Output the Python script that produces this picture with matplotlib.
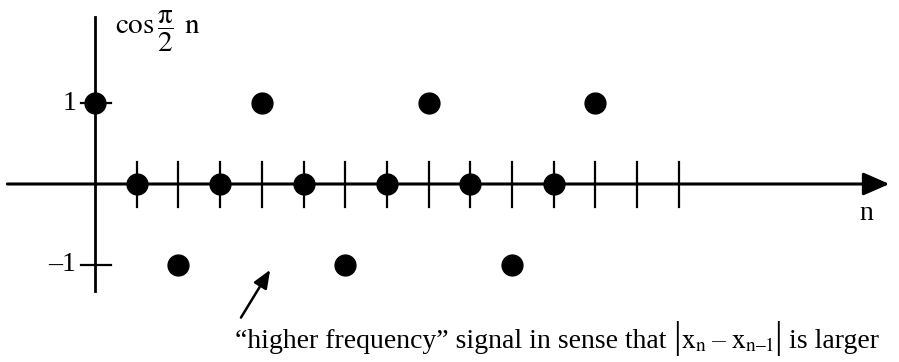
import matplotlib.pyplot as plt

plt.rcParams['font.family'] = ['Liberation Serif', 'DejaVu Serif']
plt.rcParams['mathtext.fontset'] = 'stix'

# samples of cos(pi/2 * n)
n = [0, 1, 2, 3, 4, 5, 6, 7, 8, 9, 10, 11, 12]
x_n = [1, 0, -1, 0, 1, 0, -1, 0, 1, 0, -1, 0, 1]
n_ticks = [1, 2, 3, 4, 5, 6, 7, 8, 9, 10, 11, 12, 13, 14]
y_ticks = [1, -1]
y_labels = ['1', '\u20131']

fig = plt.figure(figsize=(8.99, 3.62), dpi=100)
ax = fig.add_axes([0, 0, 1, 1])
ax.set_xlim(-2.278, 19.28)
ax.set_ylim(-2.198, 2.272)
ax.axis('off')

# axes
ax.annotate('', xy=(19.05, 0), xytext=(-2.1, 0),
            arrowprops=dict(arrowstyle='-|>,head_length=1.6,head_width=0.7',
                            lw=2.2, color='black', shrinkA=0, shrinkB=0))
ax.plot([0, 0], [2.06, -1.32], color='black', lw=2.0)

# tick marks on n axis
for t in n_ticks:
    ax.plot([t, t], [0.27, -0.28], color='black', lw=1.6)
# tick marks on vertical axis
for t, lab in zip(y_ticks, y_labels):
    ax.plot([-0.34, 0.38], [t, t], color='black', lw=1.6)
    ax.text(-0.45, t, lab, fontsize=20, ha='right', va='center')

ax.plot(n, x_n, 'o', color='black', markersize=15, zorder=5)

ax.text(0.47, 1.88,
        r'$\mathrm{cos}\,\dfrac{\mathrm{\pi}}{2}\;\,\mathrm{n}$',
        fontsize=21, ha='left', va='center')
ax.text(18.5, -0.36, 'n', fontsize=20, ha='center', va='center')

ax.annotate('', xy=(4.2, -1.06), xytext=(3.5, -1.65),
            arrowprops=dict(arrowstyle='-|>,head_length=1.1,head_width=0.45',
                            lw=1.8, color='black', shrinkA=0, shrinkB=0))

# caption, pieced together so the |...| bars can be taller than the text
pieces = [
    ('\u201chigher frequency\u201d signal in sense that ', 20),
    ('|', 27),
    ('$\\mathrm{x}_\\mathrm{n}\\;\u2013\\;\\mathrm{x}_{\\mathrm{n\u20131}}$', 20),
    ('|', 27),
    (' is larger', 20),
]
base_y = -2.03
prev = ax.text(3.35, base_y, pieces[0][0], fontsize=pieces[0][1],
               ha='left', va='baseline')
for txt, fs in pieces[1:]:
    prev = ax.annotate(txt, xy=(1, base_y), xycoords=(prev, 'data'),
                       fontsize=fs, ha='left', va='baseline')

fig.savefig('out.png', dpi=100)
